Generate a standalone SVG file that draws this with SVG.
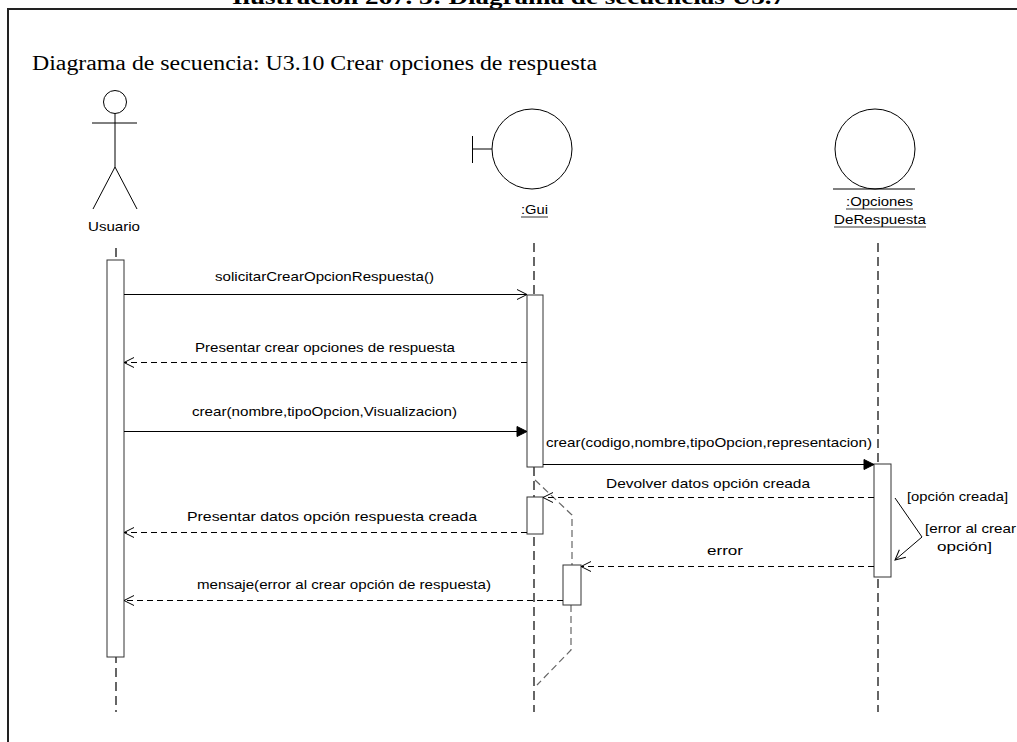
<svg xmlns="http://www.w3.org/2000/svg" width="1017" height="742" viewBox="0 0 1017 742">
<style>
.t{font-family:"Liberation Sans",Arial,sans-serif;font-size:13px;fill:#000}
.s{font-family:"Liberation Serif","Times New Roman",serif;fill:#000}
.ln{stroke:#000;stroke-width:1;fill:none}
.ll{stroke:#000;stroke-width:1.2;fill:none;stroke-dasharray:9 5}
.act{fill:#fff;stroke:#333;stroke-width:1}
.msg{stroke:#000;stroke-width:1;fill:none}
.ret{stroke:#000;stroke-width:1;fill:none;stroke-dasharray:6 4}
.gr{stroke:#666;stroke-width:1.2;fill:none;stroke-dasharray:7 4}
.gr2{stroke:#444;stroke-width:1;fill:none;stroke-dasharray:5 3}
</style>
<defs>
<marker id="open" viewBox="0 0 12 12" refX="11" refY="6" markerWidth="12" markerHeight="12" markerUnits="userSpaceOnUse" orient="auto">
<path d="M1,1 L11,6 L1,11" fill="none" stroke="#000" stroke-width="1"/>
</marker>
<marker id="fill" viewBox="0 0 12 12" refX="11" refY="6" markerWidth="12" markerHeight="12" markerUnits="userSpaceOnUse" orient="auto">
<path d="M1,1 L11,6 L1,11 z" fill="#000" stroke="#000" stroke-width="1"/>
</marker>
</defs>
<rect x="0" y="0" width="1017" height="742" fill="#fff"/>
<text class="s" x="232" y="4" font-size="20" font-weight="bold" textLength="553" lengthAdjust="spacingAndGlyphs">Ilustración 267. 3: Diagrama de secuencias U3.7</text>
<path d="M8,742 L8,9 L1017,9" fill="none" stroke="#222" stroke-width="2"/>
<text class="s" x="32" y="70" font-size="20" textLength="565" lengthAdjust="spacingAndGlyphs">Diagrama de secuencia: U3.10 Crear opciones de respuesta</text>

<g id="usuario">
<circle cx="115" cy="102" r="11.5" class="ln"/>
<line x1="115" y1="113.5" x2="115" y2="167" class="ln"/>
<line x1="92" y1="123" x2="137" y2="123" class="ln"/>
<path d="M93,209 L115,167 L137,209" class="ln"/>
<text class="t" x="88" y="231" textLength="52" lengthAdjust="spacingAndGlyphs">Usuario</text>
<line x1="116" y1="248" x2="116" y2="712" class="ll"/>
<rect x="107" y="260" width="17" height="397" class="act"/>
</g>

<g id="gui">
<circle cx="532" cy="149" r="40" class="ln" stroke-width="1.3"/>
<line x1="472.5" y1="136" x2="472.5" y2="163" class="ln" stroke-width="1.3"/>
<line x1="472.5" y1="149" x2="492" y2="149" class="ln" stroke-width="1.3"/>
<text class="t" x="521" y="214" textLength="27" lengthAdjust="spacingAndGlyphs">:Gui</text>
<line x1="521" y1="217" x2="548" y2="217" stroke="#000" stroke-width="0.8"/>
<line x1="534" y1="243" x2="534" y2="712" class="ll"/>
<rect x="527" y="295" width="16" height="172" class="act"/>
<rect x="527" y="497" width="16" height="37" class="act"/>
</g>

<g id="opciones">
<circle cx="875" cy="149" r="40" class="ln" stroke-width="1.3"/>
<line x1="833" y1="189" x2="915" y2="189" class="ln" stroke-width="1.3"/>
<text class="t" x="846" y="206" textLength="67" lengthAdjust="spacingAndGlyphs">:Opciones</text>
<line x1="846" y1="209" x2="913" y2="209" stroke="#000" stroke-width="0.8"/>
<text class="t" x="834" y="224" textLength="92" lengthAdjust="spacingAndGlyphs">DeRespuesta</text>
<line x1="834" y1="227" x2="926" y2="227" stroke="#000" stroke-width="0.8"/>
<line x1="878" y1="243" x2="878" y2="712" class="ll"/>
<rect x="874" y="464" width="17" height="113" class="act"/>
</g>

<g id="flow">
<path d="M535,480 L572,515 L572,565" class="gr"/>
<path d="M571,605 L571,650 L537,685" class="gr"/>
<rect x="563" y="565" width="18" height="40" class="act"/>
</g>

<g id="connectors">
<line x1="124" y1="294.5" x2="527" y2="294.5" class="msg" marker-end="url(#open)"/>
<text class="t" x="215" y="281" textLength="219" lengthAdjust="spacingAndGlyphs">solicitarCrearOpcionRespuesta()</text>

<line x1="527" y1="362.5" x2="124" y2="362.5" class="ret" marker-end="url(#open)"/>
<text class="t" x="195" y="352" textLength="260" lengthAdjust="spacingAndGlyphs">Presentar crear opciones de respuesta</text>

<line x1="124" y1="431.5" x2="527" y2="431.5" class="msg" marker-end="url(#fill)"/>
<text class="t" x="192" y="416" textLength="265" lengthAdjust="spacingAndGlyphs">crear(nombre,tipoOpcion,Visualizacion)</text>

<line x1="543" y1="464.5" x2="874" y2="464.5" class="msg" marker-end="url(#fill)"/>
<text class="t" x="546" y="447" textLength="326" lengthAdjust="spacingAndGlyphs">crear(codigo,nombre,tipoOpcion,representacion)</text>

<line x1="874" y1="497.5" x2="543" y2="497.5" class="ret" marker-end="url(#open)"/>
<text class="t" x="606" y="488" textLength="204" lengthAdjust="spacingAndGlyphs">Devolver datos opción creada</text>

<line x1="527" y1="532.5" x2="124" y2="532.5" class="ret" marker-end="url(#open)"/>
<text class="t" x="187" y="521" textLength="290" lengthAdjust="spacingAndGlyphs">Presentar datos opción respuesta creada</text>

<line x1="874" y1="566.5" x2="581" y2="566.5" class="ret" marker-end="url(#open)"/>
<text class="t" x="707" y="555" textLength="36" lengthAdjust="spacingAndGlyphs">error</text>

<line x1="563" y1="600.5" x2="124" y2="600.5" class="ret" marker-end="url(#open)"/>
<text class="t" x="197" y="589" textLength="294" lengthAdjust="spacingAndGlyphs">mensaje(error al crear opción de respuesta)</text>

<path d="M895,498 L922,537 L895,560" class="msg" marker-end="url(#open)"/>
<text class="t" x="907" y="501" textLength="101" lengthAdjust="spacingAndGlyphs">[opción creada]</text>
<text class="t" x="925" y="533" textLength="91" lengthAdjust="spacingAndGlyphs">[error al crear</text>
<text class="t" x="937" y="551" textLength="55" lengthAdjust="spacingAndGlyphs">opción]</text>
</g>
</svg>
